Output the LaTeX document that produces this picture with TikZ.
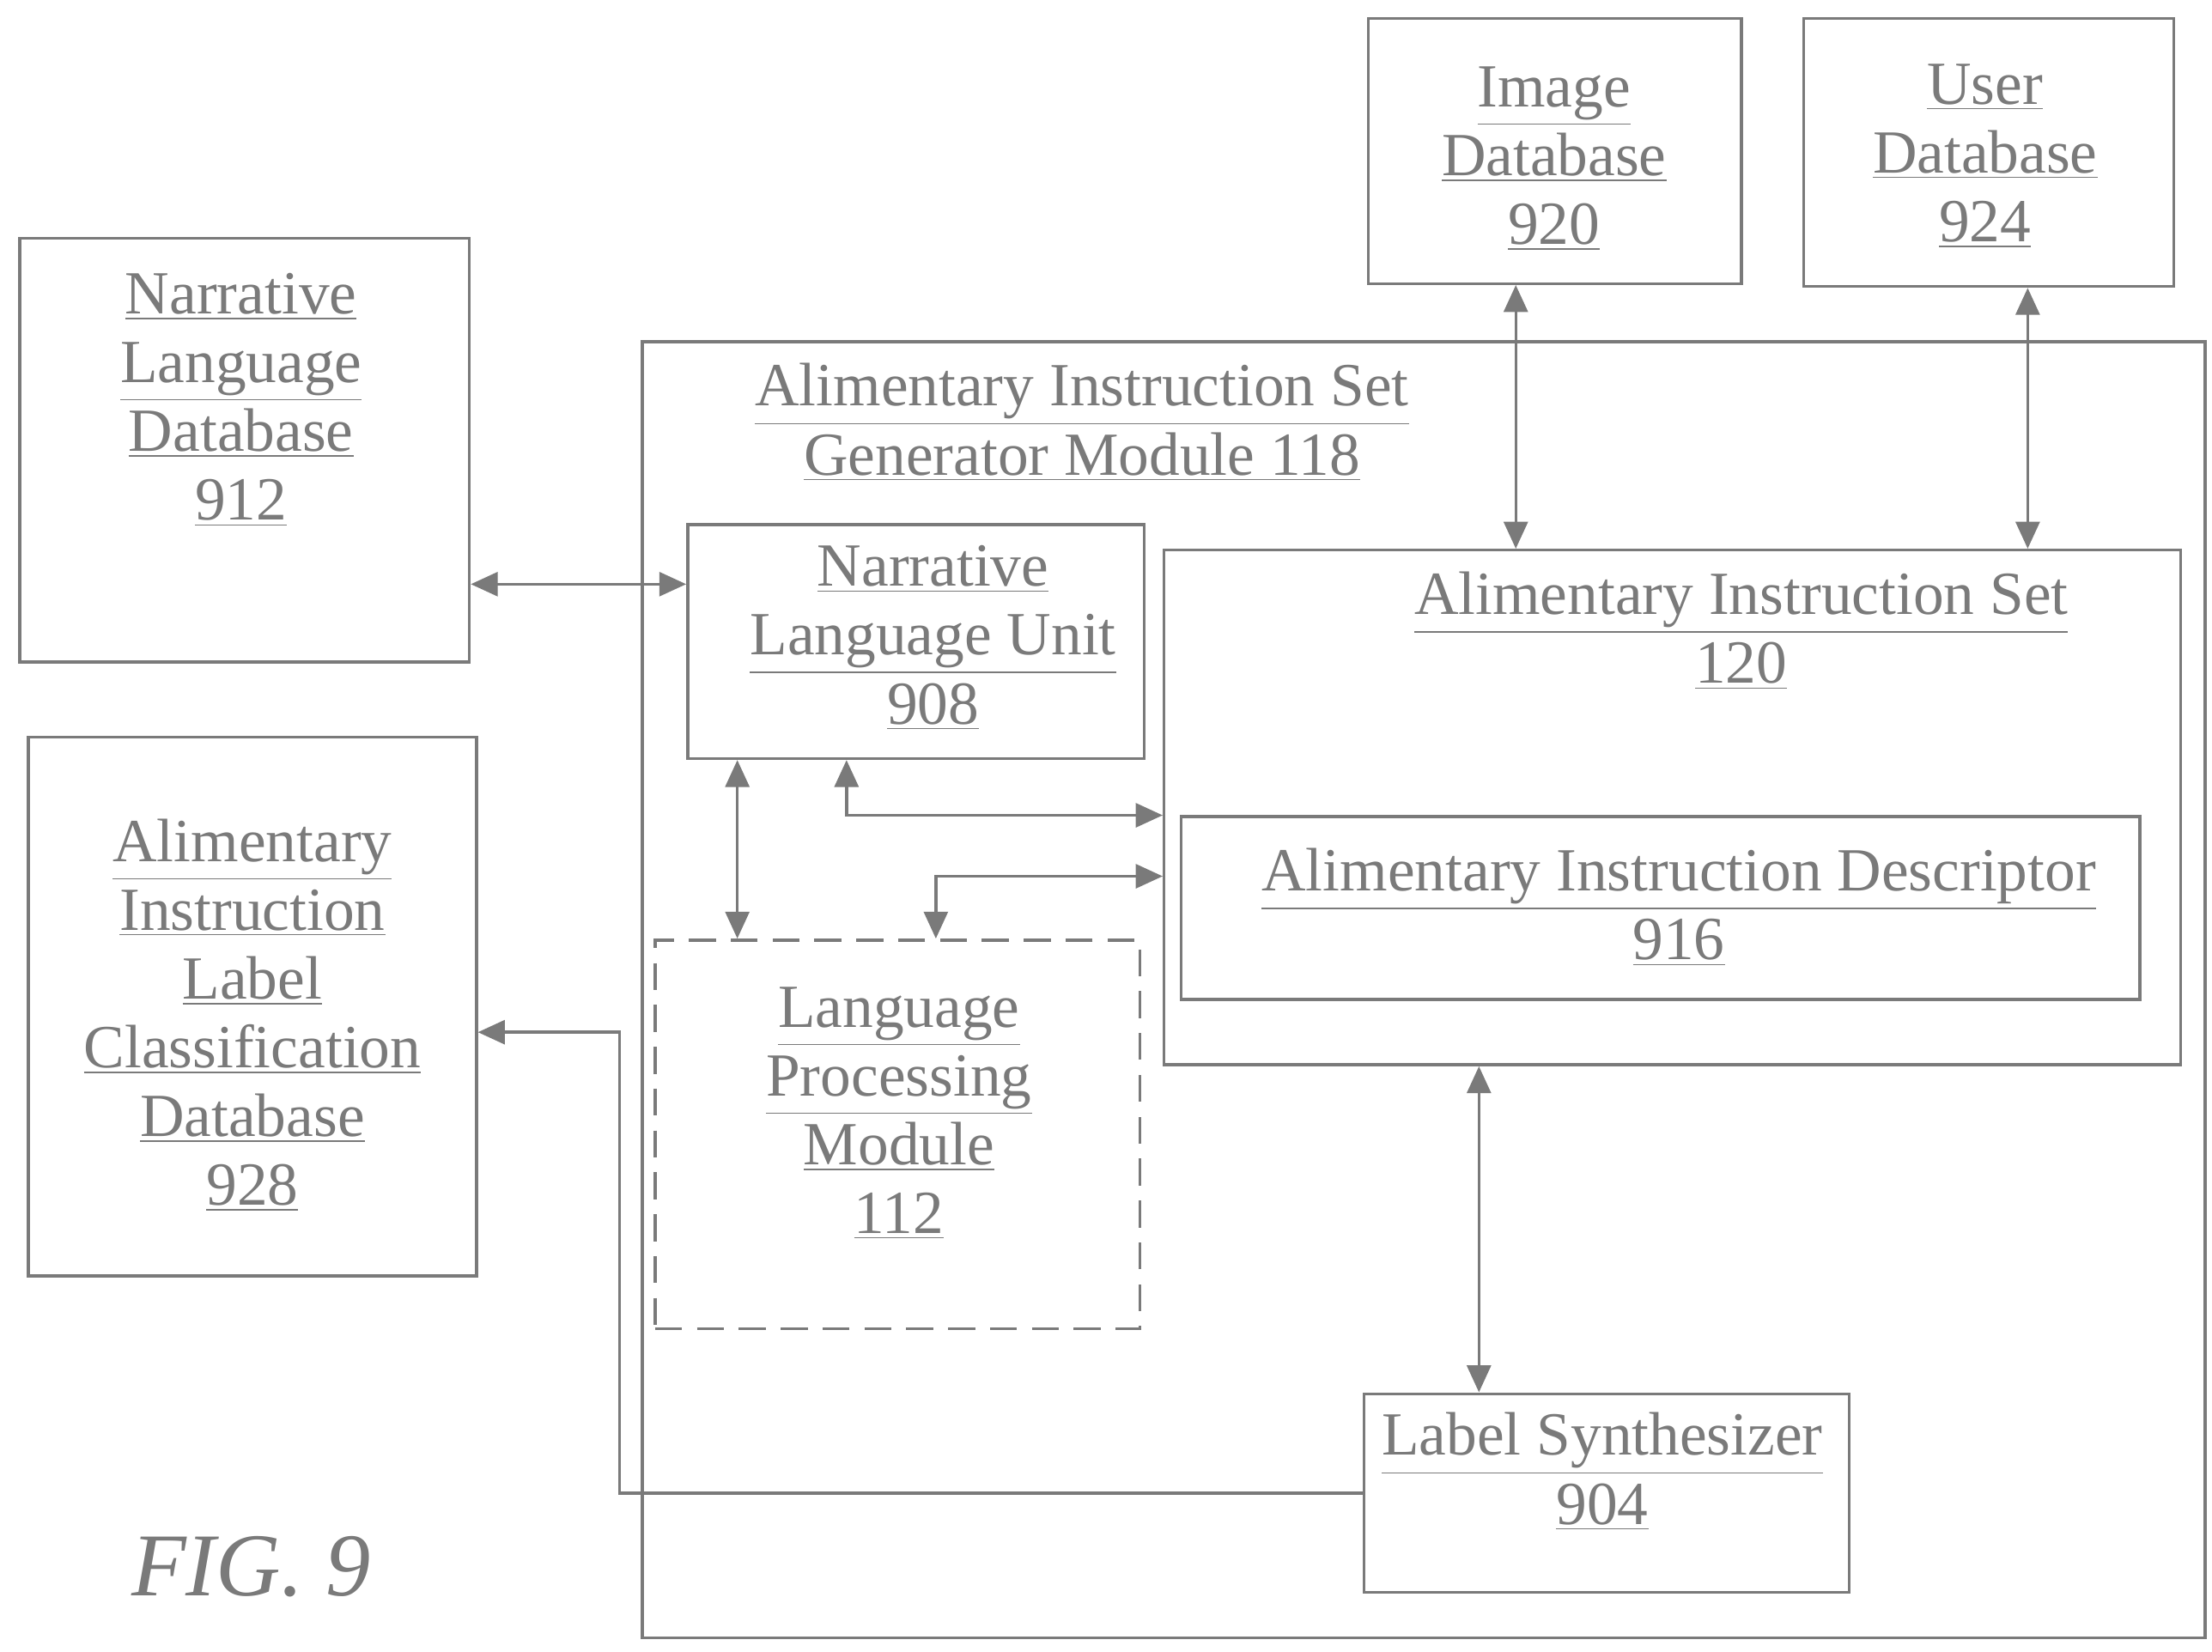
\documentclass[tikz,border=0pt]{standalone}
\usepackage{fontspec}
\setmainfont{Liberation Serif}
\usetikzlibrary{fit,calc,arrows.meta}
\definecolor{ink}{HTML}{7A7A7A}
\tikzset{
  box/.style={draw=ink,line width=1pt,inner sep=0pt},
  lbl/.style={text=ink,align=center,font=\fontsize{20.5}{23}\selectfont},
  link/.style={draw=ink,line width=1pt,{Triangle[length=9pt,width=8pt]}-{Triangle[length=9pt,width=8pt]}},
  onelink/.style={draw=ink,line width=1pt,-{Triangle[length=9pt,width=8pt]}}
}
\newcommand{\ul}[1]{\underline{#1}}
\begin{document}
\begin{tikzpicture}[x=1cm/60,y=-1cm/60]
\useasboundingbox (0,0) rectangle (1560,1165);
%boxes
\node[box,fit={(14,168) (331,467)}] (nld) {};
\node[box,fit={(20,520) (336,900)}] (ailc) {};
\node[box,fit={(965,13) (1228,200)}] (idb) {};
\node[box,fit={(1272,13) (1533,202)}] (udb) {};
\node[box,fit={(453,241) (1555,1155)}] (gen) {};
\node[box,fill=white,fit={(485,370) (807,535)}] (nlu) {};
\node[box,dashed,dash pattern=on 9pt off 5pt,fit={(462,663) (804,937)}] (lpm) {};
\node[box,fit={(821,388) (1538,751)}] (ais) {};
\node[box,fit={(833,576) (1509,705)}] (aid) {};
%labels
\node[lbl] (nldt) at (170,282) {\ul{Narrative}\\\ul{Language}\\\ul{Database}\\\ul{912}};
\node[lbl] (ailct) at (ailc) [yshift=-0.1cm] {\ul{Alimentary}\\\ul{Instruction}\\\ul{Label}\\\ul{Classification}\\\ul{Database}\\\ul{928}};
\node[lbl] (idbt) at (1096,112) {\ul{Image}\\\ul{Database}\\\ul{920}};
\node[lbl] (udbt) at (1400,110) {\ul{User}\\\ul{Database}\\\ul{924}};
\node[lbl] (gent) at (763,298) {\ul{Alimentary Instruction Set}\\\ul{Generator Module 118}};
\node[lbl] (nlut) at (658,450) {\ul{Narrative}\\\ul{Language Unit}\\\ul{908}};
\node[lbl] (lpmt) at (634,785) {\ul{Language}\\\ul{Processing}\\\ul{Module}\\\ul{112}};
\node[lbl] (aist) at (1228,445) {\ul{Alimentary Instruction Set}\\\ul{120}};
\node[lbl] (aidt) at (1184,640) {\ul{Alimentary Instruction Descriptor}\\\ul{916}};
\node[box,fill=white,fit={(962,983) (1304,1123)}] (ls) {};
\node[lbl] (lst) at (1130,1038) {\ul{Label Synthesizer}\\\ul{904}};
\node[text=ink,font=\fontsize{30}{34}\selectfont\itshape] (fig) at (177,1105) {FIG. 9};
%connectors
\coordinate (c1) at (412,412);
\coordinate (c2) at (520,0);
\coordinate (c3) at (597,575);
\coordinate (c4) at (660,618);
\coordinate (c5) at (1069,0);
\coordinate (c6) at (1430,0);
\coordinate (c7) at (1043,0);
\coordinate (c8) at (437,728);
\draw[link] (nld.east |- c1) -- (nlu.west |- c1);
\draw[link] (nlu.south -| c2) -- (lpm.north -| c2);
\draw[link] (nlu.south -| c3) -- (c3) -- (ais.west |- c3);
\draw[link] (lpm.north -| c4) -- (c4) -- (ais.west |- c4);
\draw[link] (idb.south -| c5) -- (ais.north -| c5);
\draw[link] (udb.south -| c6) -- (ais.north -| c6);
\draw[link] (ais.south -| c7) -- (ls.north -| c7);
\draw[onelink] (ls.west) -- (ls.west -| c8) -- (c8) -- (ailc.east |- c8);
\end{tikzpicture}
\end{document}
